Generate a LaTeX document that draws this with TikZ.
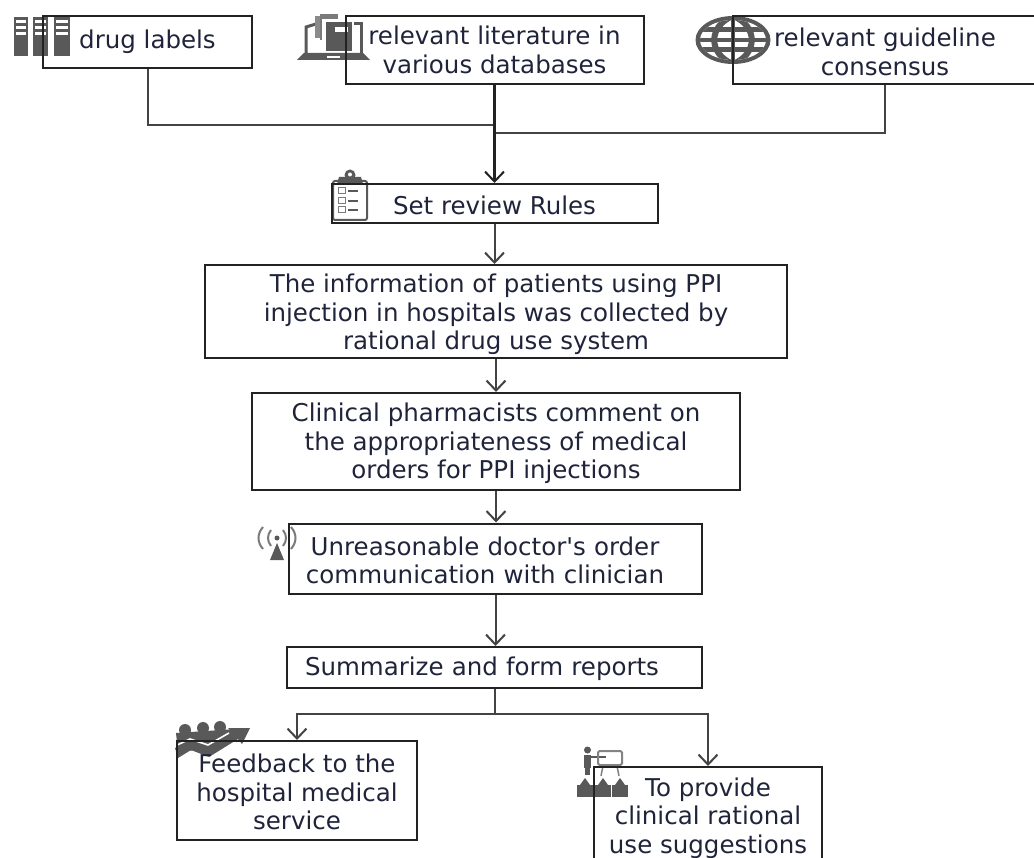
\documentclass[tikz,border=0pt]{standalone}
\usepackage{fontspec}
\setmainfont{DejaVu Sans}
\newfontface\straightface{DejaVu Sans}
\usetikzlibrary{arrows.meta,calc}
\definecolor{icon}{HTML}{595959}
\definecolor{ink}{HTML}{20243A}
\definecolor{edge}{HTML}{222222}
\newcommand{\lowerby}[1]{\rule{0pt}{#1pt}}
\tikzset{
  box/.style={draw=edge,line width=2pt,inner sep=0pt,align=center,text=ink,font=\fontsize{24.5}{28.5}\selectfont},
  link/.style={draw=edge!85,line width=2pt},
  flow/.style={link,-{Straight Barb[length=10pt,width=19pt,line width=2pt]}},
  ic/.style={fill=icon,draw=none},
  icw/.style={fill=white,draw=none}
}
\begin{document}
\begin{tikzpicture}[x=1pt,y=-1pt]
\path[use as bounding box,clip] (0,0) rectangle (1034,858);
\fill[white] (0,0) rectangle (1034,858);
% server icon
\foreach \a/\b in {14/28,33/48,54/70}{
  \fill[ic] (\a,17) rectangle (\b,56);
  \foreach \s in {20,26,32}{\fill[icw] (\a+2,\s) rectangle (\b-2,\s+3);}
}
% laptop icon
\draw[icon,line width=3pt] (306,55) -- (306,27) -- (316,24);
\draw[icon,line width=3pt] (354,24) -- (361,24) -- (361,55);
\fill[ic] (304,53) -- (363,53) -- (370,60) -- (297,60) -- cycle;
\fill[icw] (327,56) rectangle (340,58);
\fill[icon!70] (315,16) rectangle (330,38);
\fill[icon!80] (320,14) rectangle (338,40);
\fill[white] (322,19) rectangle (340,48);
\fill[ic] (326,22) rectangle (352,51);
\fill[icw] (335,27) rectangle (348,32);
% globe icon
\fill[ic] (733,40) ellipse [x radius=37.5,y radius=24];
\begin{scope}
\clip (733,40) ellipse [x radius=33,y radius=20];
\fill[white] (690,10) rectangle (780,70);
\draw[icon,line width=6pt] (733,16) .. controls (708,26) and (708,54) .. (733,64);
\draw[icon,line width=6pt] (733,16) .. controls (758,26) and (758,54) .. (733,64);
\draw[icon,line width=4pt] (733,16) -- (733,64);
\draw[icon,line width=5pt] (700,30) -- (766,30);
\draw[icon,line width=5pt] (700,50) -- (766,50);
\draw[icon,line width=4pt] (700,40) -- (766,40);
\end{scope}
% clipboard icon
\draw[icon,line width=2pt,rounded corners=2pt,fill=white] (333,181) rectangle (367,220);
\fill[ic] (339,177) -- (361,177) -- (363,184) -- (337,184) -- cycle;
\fill[ic] (350,175) circle [radius=5.5];
\fill[icw] (350,174.5) circle [radius=2];
\foreach \y in {191,201,210}{
  \draw[icon!80,line width=1pt] (338,\y-3) rectangle (345,\y+3);
  \fill[ic] (348,\y-1) rectangle (358,\y+1.5);
}
% antenna icon
\fill[ic] (277,543) -- (284,560) -- (270,560) -- cycle;
\fill[ic] (277,538) circle [radius=2.5];
\draw[icon!80,line width=2pt] (271,530) .. controls (267,535) and (267,541) .. (271,546);
\draw[icon!80,line width=2pt] (263,527) .. controls (257,534) and (257,542) .. (263,549);
\draw[icon!80,line width=2pt] (283,530) .. controls (287,535) and (287,541) .. (283,546);
\draw[icon!80,line width=2pt] (291,527) .. controls (297,534) and (297,542) .. (291,549);
% people and arrow icon
\fill[ic] (185,730) circle [radius=6];
\fill[ic] (203,728) circle [radius=6];
\fill[ic] (220,727) circle [radius=6];
\fill[ic] (176,733) -- (236,729) -- (240,735) -- (215,748) -- (178,752) -- cycle;
\fill[ic] (175,748) -- (190,741) -- (208,747) -- (232,732) -- (228,728) -- (250,728) -- (242,744) -- (238,739) -- (209,757) -- (191,750) -- (178,758) -- cycle;
\draw[white,line width=1.6pt] (173,747) -- (190,739) -- (208,745) -- (229,733);
% presenter icon
\fill[ic] (587.5,750) circle [radius=3.5];
\fill[ic] (584,755) rectangle (591,768);
\fill[ic] (585,768) rectangle (590,775);
\draw[icon,line width=1.5pt] (590,757) -- (606,757);
\draw[icon!75,line width=2pt,rounded corners=1.5pt] (598,751) rectangle (622,765);
\draw[icon!75,line width=1.5pt] (603,766) -- (601,776);
\draw[icon!75,line width=1.5pt] (617,766) -- (619,776);
\foreach \x in {585,603,620}{
  \fill[ic] (\x,778) -- (\x+5,785) -- (\x-5,785) -- cycle;
  \fill[ic] (\x-8,785) rectangle (\x+8,797);
}
% boxes
\node[box,minimum width=209pt,minimum height=52pt] (drug) at (147.5,42) {drug labels};
\node[box,minimum width=298pt,minimum height=68pt] (lit) at (494.5,50) {relevant literature in\\various databases};
\node[box,minimum width=304pt,minimum height=68pt] (guide) at (885,50) {\lowerby{22}relevant guideline\\consensus};
\node[box,minimum width=326pt,minimum height=39pt] (rules) at (494.5,203.5) {\lowerby{22}Set review Rules};
\node[box,minimum width=582pt,minimum height=93pt] (info) at (496,311.5) {\lowerby{25}The information of patients using PPI\\injection in hospitals was collected by\\rational drug use system};
\node[box,minimum width=488pt,minimum height=97pt] (pharm) at (496,441.5) {\lowerby{23}Clinical pharmacists comment on\\the appropriateness of medical\\orders for PPI injections};
\node[box,minimum width=413pt,minimum height=70pt,text width=405pt] (comm) at (495.5,558.5) {\hspace*{-21pt}\lowerby{22}Unreasonable doctor{\straightface'}s order\\\hspace*{-21pt}communication with clinician};
\node[box,minimum width=415pt,minimum height=41pt,text width=405pt] (sum) at (494.5,667.5) {\hspace*{-25pt}\lowerby{22}Summarize and form reports};
\node[box,minimum width=240pt,minimum height=99pt] (feed) at (297,790.5) {\lowerby{22}Feedback to the\\hospital medical\\service};
\node[box,minimum width=228pt,minimum height=98pt] (sugg) at (708,816) {\lowerby{23}To provide\\clinical rational\\use suggestions};
% connectors
\coordinate (joinA) at (lit.south |- 0,125);
\coordinate (joinB) at (lit.south |- 0,133);
\coordinate (split) at (sum.south |- 0,714);
\draw[link] (drug.south) |- (joinA);
\draw[link] (guide.south) |- (joinB);
\draw[flow,line width=2.6pt,draw=edge] (lit.south) -- (rules.north);
\draw[flow] (rules.south) -- (info.north -| rules.south);
\draw[flow] (info.south) -- (pharm.north);
\draw[flow] (pharm.south) -- (comm.north -| pharm.south);
\draw[flow] (comm.south) -- (sum.north -| comm.south);
\draw[link] (sum.south) -- (split);
\draw[flow] (split) -| (feed.north);
\draw[flow] (split) -| (sugg.north);
\end{tikzpicture}
\end{document}
